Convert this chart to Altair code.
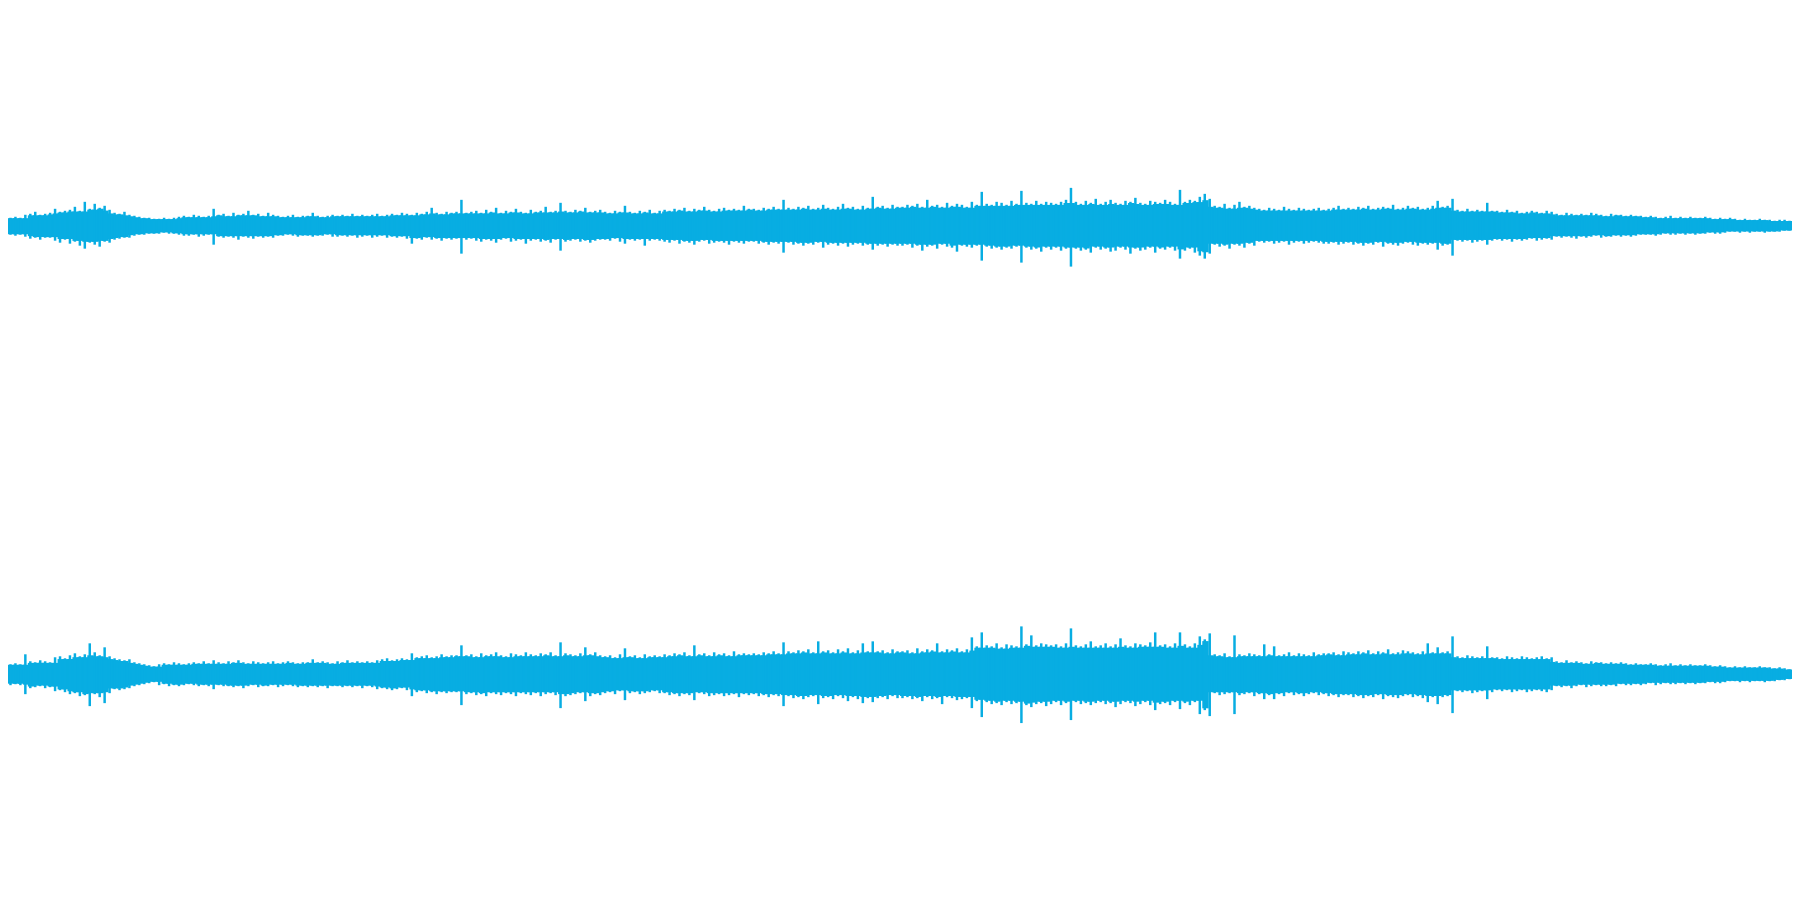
import altair as alt
import pandas as pd

# Waveform peak levels per column (level units; 225 = channel full scale)
# Channel 1 (top) positive and negative peaks
ch1_upper = (
    [8,9,8, 11,12,14,11,12,13, 17,14,15, 16,19,15,24,17,22,18,20,16, 13,12,14,11, 10,9,8,8,7]
    + [7,8,7,8, 9,10,9,11,10,9,10, 17, 11,12,10,13,11,12,15,11,12,10,13,11, 10,9,10,11,9,10]
    + [10,13,10,9,10,11, 10,11,10,12,10,11,10,11,12,10, 11,12,11,13,12,11, 13,12,14,18,13,12,14,13]
    + [14,26, 13,14,15,13,16,14,18,13,15,14,17,14,13,16,14,15,19,14,15, 23,15, 14,16,15,18,14,15,16]
    + [14,13,15,14,20,14,13,15,14,16,13,15, 16,15,17,16,18,15,17,16,19,16,15,17,18,16,17,16,20,17]
    + [17,16,18,17,19,17, 26, 18,17,19,18,20,17,18,21,18,17,19,22,18,19,17,20,18, 29, 19,20,18,21,19]
    + [19,21,20,22,19,26,20,21,19,23,20,22,21,19,24,21, 34, 22,21,24,23,21,25,22, 35, 23,22,25,22,24]
    + [23,22,24,26, 38, 24,22,25,23,27,22,24,26,23,22,25,24,28,23,22,25,24,23,26,24,22, 36, 24,26,25]
    + [29,32,27, 20,19,22,18,21,24,19,20,18, 17,16,18,17,16,19,17,16,18,17,16,17,18,16, 17,18,20,17]
    + [18,17,19,18,20,17,18,19,18,21,17,18,20,18,19,17,18,20, 25,19,20,27, 16,15,17,15,16,15, 23,15]
    + [15,14,16,14,15,13,14,15,14,13,15,14, 12,11,13,12,11,12,11,13,12,11,10,12,11,11,10,11,10,10]
    + [9,10,9,8,9,10,8,9,8,9,8,8,9,8,7,8, 7,8,7,6,7,6,6,7,6,6,5,6,6,5]
)
ch1_lower = (
    [9,10,9, 11,13,12,14,12,12, 15,17,14, 18,16,20,23,17,19,21,16,17, 14,13,12,12, 10,9,9,8,8]
    + [8,7,8,8, 9,10,10,9,11,10,9, 19, 11,12,11,12,14,11,12,13,11,12,11,12, 10,10,9,10,11,10]
    + [10,11,10,10,9,11, 11,10,11,10,12,11,10,12,11,10, 12,11,12,11,13,18, 13,14,12,14,13,15,13,14]
    + [13,28, 14,13,15,16,14,15,17,14,13,16,15,14,18,15,14,16,15,17,14, 25,16, 15,14,16,15,17,15,14]
    + [14,15,13,16,18,14,15,14,20,15,14,15, 16,17,15,18,16,17,19,16,15,18,17,16,17,19,16,17,18,16]
    + [16,18,17,19,17,18, 27, 17,19,18,20,18,19,17,22,19,18,20,18,21,19,18,20,19, 24, 20,19,21,19,20]
    + [20,19,22,20,25,21,20,23,19,21,22,26,20,21,22,20, 35, 21,23,22,24,22,23,21, 37, 22,24,23,26,22]
    + [24,22,25,23, 41, 23,25,24,27,22,24,23,26,25,22,24,28,23,25,24,22,27,23,24,22,25, 33, 25,23,27]
    + [30,33,28, 19,21,20,23,19,20,22,18,20, 16,17,16,18,17,16,19,17,16,18,17,16,17,18, 18,17,19,18]
    + [17,19,18,20,18,19,17,21,18,19,20,18,17,19,20,18,19,18, 24,20,19,30, 15,16,15,17,16,15, 19,15]
    + [14,15,14,16,14,15,14,13,15,14,13,14, 11,12,11,12,13,11,12,11,10,12,11,11,10,11,10,11,10,9]
    + [9,9,10,9,8,9,9,8,9,8,9,8,8,7,8,8, 7,6,6,7,6,7,6,6,7,6,6,6,5,5]
)
# Channel 2 (bottom)
ch2_upper = (
    [10,11,10, 20,13,12,14,13,12, 17,18,16, 19,21,18,20,31,22,19,27,18, 16,15,14,15, 12,11,10,9,8]
    + [10,11,10,12,11,10,11,12,11,13,11, 14, 12,11,13,12,14,12,11,13,12,11,12,13,11,12,13,12,11,12]
    + [12,15,12,13,12,11,13,12,14,12,13,12,13,12, 14,15,16,14,15,16,15, 21,17,18,19,17,18,20,18,19]
    + [19,29, 19,20,18,21,19,20,22,19,18,21,20,19,22,20,19,21,20,22,19, 32,21, 20,19,21,27,20,22,19]
    + [18,19,17,20,26,18,19,17,20,18,19,18, 20,19,21,20,22,19,29,20,21,19,22,20,21,19,23,20,21,20]
    + [21,20,22,21,23,21, 32, 23,22,24,23,25,22,33,23,24,22,25,23,26,22,24,31,23, 33, 23,24,22,25,23]
    + [23,24,22,26,23,25,24,31,23,25,24,26,23,25, 37,28, 42, 29,28,31,27,30,29,28, 48, 30,39,29,31,30]
    + [29,30,28,31, 46, 29,28,30,33,28,29,31,28,30,36,29,28,31,30,29,32,42,29,30,28,31, 42, 30,28,31]
    + [38,35,41, 20,19,21,18,39,20,19,21,20, 19,30,20,28,19,20,22,19,21,20,19,22,20,21, 21,22,20,23]
    + [22,21,23,22,24,21,23,22,25,21,22,24,23,22,21,23,31,22, 27,22,23,38, 18,17,19,18,17,18, 28,17]
    + [17,16,18,17,16,18,17,16,17,18,16,17, 13,12,14,12,13,12,11,13,12,12,11,12,11,12,11,10,11,10]
    + [10,11,10,9,10,11,9,10,9,10,9,9,10,9,8,9, 8,7,8,7,8,7,7,8,7,7,6,7,6,5]
)
ch2_lower = (
    [11,10,11, 20,14,13,12,14,13, 17,16,18, 20,19,22,21,32,20,23,29,19, 15,16,15,14, 12,11,10,9,8]
    + [11,10,12,11,12,11,10,11,12,11,12, 15, 11,12,12,13,12,14,12,11,13,12,12,11,13,12,11,12,13,12]
    + [13,12,13,12,14,12,12,13,12,13,12,14,12,13, 15,14,15,16,15,14,16, 22,18,17,19,18,20,18,19,18]
    + [18,31, 20,19,21,20,22,19,20,21,19,20,22,19,20,21,19,22,20,19,21, 34,22, 21,20,19,27,22,20,21]
    + [19,18,20,17,26,19,18,20,19,18,17,19, 19,21,20,22,20,21,26,19,20,22,21,20,22,21,20,23,20,21]
    + [20,22,21,23,21,22, 32, 22,24,23,25,23,22,30,24,23,25,22,24,27,23,25,29,24, 28, 24,23,25,22,24]
    + [24,23,25,24,27,23,25,24,30,23,24,26,25,24, 34,27, 43, 28,30,29,31,28,30,29, 49, 31,33,30,29,32]
    + [30,28,31,29, 46, 28,30,29,31,29,28,30,29,33,30,28,29,32,30,28,31,36,30,29,31,28, 35, 29,31,28]
    + [40,36,42, 19,21,20,19,40,21,20,19,22, 20,25,21,25,20,22,19,21,20,22,20,19,21,20, 22,21,23,21]
    + [21,23,22,24,22,23,21,25,22,23,24,22,21,23,22,24,28,23, 30,23,22,39, 17,18,17,19,18,17, 25,18]
    + [16,17,16,18,17,16,18,17,16,17,18,16, 12,13,12,14,12,11,13,12,11,12,12,11,12,10,11,11,10,11]
    + [10,9,11,10,9,10,10,9,10,9,10,9,9,8,9,9, 8,7,7,8,7,8,7,7,8,7,7,6,6,5]
)

channels = [("ch1", 225, ch1_upper, ch1_lower), ("ch2", -225, ch2_upper, ch2_lower)]
ncols = min(len(ch1_upper), len(ch1_lower), len(ch2_upper), len(ch2_lower))
frames = []
for name, center, up, lo in channels:
    d = pd.DataFrame({"up": up[:ncols], "lo": lo[:ncols]})
    d["channel"] = name
    d["t0"] = range(ncols)
    d["t1"] = d["t0"] + 1.3
    d["tc"] = d["t0"] + 0.5
    # solid core of the waveform: local minimum of neighbouring peaks
    core_up = d["up"].rolling(3, center=True, min_periods=1).min()
    core_lo = d["lo"].rolling(3, center=True, min_periods=1).min()
    d["core_top"] = center + core_up * 0.95
    d["core_bottom"] = center - core_lo * 0.95
    d["top"] = center + d["up"]
    d["bottom"] = center - d["lo"]
    frames.append(d)
df = pd.concat(frames, ignore_index=True)

color = "#08ade2"
xs = alt.Scale(domain=[0, ncols], nice=False, zero=False)
ys = alt.Scale(domain=[-434, 442], nice=False, zero=False)

base = alt.Chart(df)
core = base.mark_rect(color=color, strokeWidth=0).encode(
    x=alt.X("t0:Q", scale=xs, axis=None),
    x2="t1:Q",
    y=alt.Y("core_top:Q", scale=ys, axis=None),
    y2="core_bottom:Q",
)
spikes = base.mark_rule(color=color, strokeWidth=2.5).encode(
    x=alt.X("tc:Q", scale=xs, axis=None),
    y=alt.Y("top:Q", scale=ys, axis=None),
    y2="bottom:Q",
)

chart = (
    alt.layer(core, spikes)
    .properties(width=1790, height=876, padding=0, autosize="none", background="white")
    .configure_view(stroke=None)
)

chart.save("out.html", embed_options={"renderer": "svg", "actions": False})
